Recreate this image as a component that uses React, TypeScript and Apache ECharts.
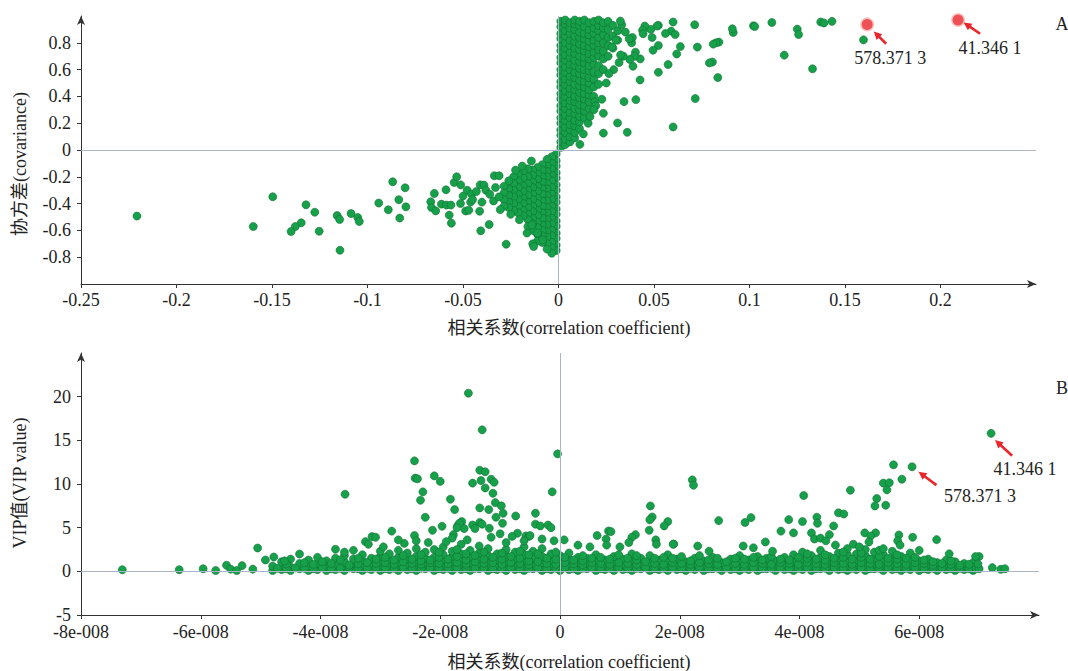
import React, { useEffect, useRef } from "react";
import * as echarts from "echarts";

// ---------- Panel A (S-plot): x = correlation coefficient, y = covariance ----------
// dense cluster, positive side: [x, covariance values at that x]
const sPlotDensePos: [number, number[]][] = [
  [0.0012, [0.02, 0.06, 0.11, 0.15, 0.2, 0.24, 0.29, 0.33, 0.38, 0.42, 0.47, 0.51, 0.56, 0.6, 0.65, 0.69, 0.74, 0.78, 0.83, 0.87, 0.92, 0.96]],
  [0.0035, [0.04, 0.08, 0.13, 0.17, 0.22, 0.26, 0.31, 0.35, 0.4, 0.44, 0.49, 0.53, 0.58, 0.62, 0.67, 0.71, 0.76, 0.8, 0.85, 0.89, 0.94, 0.97]],
  [0.006, [0.06, 0.1, 0.15, 0.19, 0.24, 0.28, 0.33, 0.37, 0.42, 0.46, 0.51, 0.55, 0.6, 0.64, 0.69, 0.73, 0.78, 0.82, 0.87, 0.91, 0.95]],
  [0.0085, [0.09, 0.13, 0.18, 0.22, 0.27, 0.31, 0.36, 0.4, 0.45, 0.49, 0.54, 0.58, 0.63, 0.67, 0.72, 0.76, 0.81, 0.85, 0.9, 0.94, 0.97]],
  [0.011, [0.16, 0.21, 0.25, 0.3, 0.34, 0.39, 0.43, 0.48, 0.52, 0.57, 0.61, 0.66, 0.7, 0.75, 0.79, 0.84, 0.88, 0.93, 0.96]],
  [0.0135, [0.24, 0.29, 0.33, 0.38, 0.42, 0.47, 0.51, 0.56, 0.6, 0.65, 0.69, 0.74, 0.78, 0.83, 0.87, 0.92, 0.97]],
  [0.016, [0.31, 0.36, 0.41, 0.45, 0.5, 0.54, 0.59, 0.63, 0.68, 0.72, 0.77, 0.81, 0.86, 0.9, 0.95]],
  [0.0185, [0.4, 0.47, 0.53, 0.58, 0.64, 0.69, 0.73, 0.78, 0.82, 0.87, 0.91, 0.96]],
  [0.021, [0.49, 0.57, 0.63, 0.7, 0.75, 0.8, 0.84, 0.89, 0.93, 0.97]],
  [0.0235, [0.6, 0.68, 0.74, 0.8, 0.86, 0.91, 0.95]],
  [0.026, [0.7, 0.78, 0.84, 0.9, 0.96]],
  [0.0285, [0.76, 0.85, 0.93]],
  [0.031, [0.82, 0.89]],
];
// dense cluster, negative side
const sPlotDenseNeg: [number, number[]][] = [
  [-0.0012, [-0.03, -0.08, -0.12, -0.17, -0.21, -0.26, -0.3, -0.35, -0.39, -0.44, -0.48, -0.53, -0.57, -0.62, -0.66, -0.71, -0.75]],
  [-0.0035, [-0.05, -0.1, -0.14, -0.19, -0.23, -0.28, -0.33, -0.37, -0.42, -0.46, -0.51, -0.55, -0.6, -0.64, -0.69, -0.73, -0.77]],
  [-0.006, [-0.07, -0.12, -0.16, -0.2, -0.25, -0.29, -0.34, -0.38, -0.43, -0.47, -0.52, -0.56, -0.61, -0.65, -0.7, -0.74]],
  [-0.0085, [-0.11, -0.15, -0.2, -0.24, -0.29, -0.33, -0.38, -0.42, -0.47, -0.51, -0.56, -0.6, -0.64, -0.69]],
  [-0.011, [-0.13, -0.18, -0.22, -0.27, -0.31, -0.36, -0.4, -0.45, -0.49, -0.54, -0.58, -0.63, -0.68]],
  [-0.0135, [-0.15, -0.19, -0.24, -0.28, -0.33, -0.37, -0.42, -0.46, -0.51, -0.55, -0.6]],
  [-0.016, [-0.14, -0.2, -0.25, -0.3, -0.34, -0.39, -0.43, -0.48, -0.52, -0.57]],
  [-0.0185, [-0.16, -0.21, -0.27, -0.31, -0.36, -0.4, -0.45, -0.49]],
  [-0.021, [-0.18, -0.23, -0.28, -0.33, -0.37, -0.42, -0.47]],
  [-0.0235, [-0.2, -0.25, -0.3, -0.35, -0.4, -0.45]],
  [-0.026, [-0.23, -0.29, -0.34, -0.39, -0.43]],
  [-0.0285, [-0.27, -0.32, -0.37, -0.42]],
];
// individually read points
const sPlotSparse: [number, number][] = [
  [-0.2207, -0.493], [-0.1598, -0.571], [-0.1496, -0.349], [-0.1322, -0.409], [-0.1276, -0.464],
  [-0.1347, -0.543], [-0.1378, -0.571], [-0.14, -0.608], [-0.1253, -0.606], [-0.1159, -0.489],
  [-0.1146, -0.518], [-0.1144, -0.748], [-0.1086, -0.474], [-0.1051, -0.504], [-0.1043, -0.533],
  [-0.0941, -0.396], [-0.0891, -0.446], [-0.0868, -0.237], [-0.0836, -0.371], [-0.0831, -0.508],
  [-0.0803, -0.282], [-0.0799, -0.424], [-0.0669, -0.386], [-0.0665, -0.429], [-0.065, -0.324],
  [-0.0643, -0.454], [-0.0613, -0.404], [-0.0589, -0.297], [-0.0587, -0.411], [-0.0572, -0.486],
  [-0.0563, -0.411], [-0.0561, -0.546], [-0.0546, -0.242], [-0.0533, -0.2], [-0.0513, -0.399],
  [-0.0512, -0.26], [-0.05, -0.344], [-0.0486, -0.455], [-0.0478, -0.3], [-0.047, -0.45],
  [-0.046, -0.389], [-0.0455, -0.33], [-0.0407, -0.603], [-0.0413, -0.457], [-0.0401, -0.389],
  [-0.041, -0.26], [-0.039, -0.262], [-0.0363, -0.556], [-0.0336, -0.192], [-0.0311, -0.192],
  [-0.0274, -0.703], [-0.0305, -0.445], [-0.038, -0.3], [-0.036, -0.33], [-0.034, -0.38],
  [-0.043, -0.31], [-0.045, -0.37], [-0.033, -0.28], [-0.0142, -0.082], [-0.0135, -0.7],
  [-0.0083, -0.67], [-0.014, -0.56], [-0.011, -0.62], [-0.013, -0.72], [-0.0312, -0.35],
  [-0.0225, -0.15], [-0.019, -0.12], [-0.0165, -0.62], [-0.0205, -0.52], [-0.025, -0.48],
  [0.1597, 0.822], [0.1432, 0.96], [0.1373, 0.955], [0.139, 0.948], [0.133, 0.606],
  [0.125, 0.902], [0.1257, 0.862], [0.1182, 0.708], [0.1117, 0.952], [0.1021, 0.927],
  [0.1027, 0.922], [0.0915, 0.877], [0.091, 0.905], [0.084, 0.805], [0.0834, 0.541],
  [0.0825, 0.8], [0.081, 0.79], [0.0806, 0.656], [0.079, 0.65], [0.0713, 0.935],
  [0.0727, 0.768], [0.0716, 0.384], [0.06, 0.172], [0.0638, 0.772], [0.0619, 0.717],
  [0.06, 0.955], [0.059, 0.887], [0.0611, 0.862], [0.0574, 0.638], [0.0523, 0.78],
  [0.0523, 0.93], [0.0516, 0.925], [0.0523, 0.58], [0.056, 0.87], [0.0495, 0.745],
  [0.0483, 0.9], [0.049, 0.84], [0.0452, 0.925], [0.044, 0.893], [0.0443, 0.868],
  [0.0427, 0.523], [0.0428, 0.68], [0.0405, 0.376], [0.039, 0.625], [0.0383, 0.8],
  [0.0387, 0.84], [0.0403, 0.73], [0.0398, 0.7], [0.0374, 0.676], [0.036, 0.132],
  [0.0343, 0.361], [0.0331, 0.935], [0.0324, 0.962], [0.0317, 0.653], [0.0309, 0.202],
  [0.034, 0.7], [0.0325, 0.71], [0.0289, 0.6], [0.0264, 0.57], [0.025, 0.5],
  [0.0235, 0.274], [0.0235, 0.126], [0.0227, 0.379], [0.019, 0.36], [0.0195, 0.33],
  [0.0185, 0.3], [0.0112, 0.042], [0.035, 0.88], [0.037, 0.83], [0.028, 0.77], [0.03, 0.82],
  [0.0155, 0.2], [0.013, 0.12], [0.0165, 0.25],
];
const highlightNames = ["578.371 3", "41.346 1"];
const sPlotHighlight: [number, number][] = [[0.1616, 0.937], [0.2092, 0.97]];

// ---------- Panel B (VIP plot): x = correlation coefficient (unit 1e-8), y = VIP value ----------
// dense band near the axis: [x, VIP values at that x...]
const vipDense: number[][] = [
  [-4.8, 0.1, 0.6], [-4.65, 0.2, 1.1], [-4.5, 0.1, 0.5, 1.4], [-4.35, 0.3, 0.9], [-4.2, 0.1, 0.6, 1.3],
  [-4.05, 0.2, 0.9, 1.6], [-3.9, 0.1, 0.5, 1.2], [-3.75, 0.2, 0.8, 1.5], [-3.6, 0.1, 0.6, 1.1, 1.8],
  [-3.45, 0.3, 0.9, 1.4], [-3.3, 0.1, 0.5, 1.2, 1.9], [-3.15, 0.2, 0.8, 1.5], [-3.0, 0.1, 0.6, 1.1, 1.7, 2.3],
  [-2.85, 0.2, 0.7, 1.3, 2.0], [-2.7, 0.1, 0.5, 1.0, 1.6, 2.4], [-2.55, 0.2, 0.8, 1.4, 2.1],
  [-2.4, 0.1, 0.6, 1.1, 1.7, 2.6], [-2.25, 0.3, 0.9, 1.5, 2.2], [-2.1, 0.1, 0.5, 1.0, 1.6, 2.5],
  [-1.95, 0.2, 0.7, 1.3, 1.9, 2.8], [-1.8, 0.1, 0.6, 1.1, 1.7, 2.3], [-1.65, 0.2, 0.8, 1.4, 2.0, 3.1],
  [-1.5, 0.1, 0.5, 1.0, 1.6, 2.4], [-1.35, 0.3, 0.9, 1.5, 2.1, 2.9], [-1.2, 0.1, 0.6, 1.2, 1.8, 2.6],
  [-1.05, 0.2, 0.7, 1.3, 2.0], [-0.9, 0.1, 0.5, 1.1, 1.7, 2.5], [-0.75, 0.2, 0.8, 1.4, 2.2],
  [-0.6, 0.1, 0.6, 1.2, 1.9, 2.8], [-0.45, 0.3, 0.9, 1.5, 2.3], [-0.3, 0.1, 0.5, 1.0, 1.7, 2.6],
  [-0.15, 0.2, 0.7, 1.3, 2.0], [0.0, 0.1, 0.6, 1.2, 1.8], [0.15, 0.2, 0.8, 1.4, 2.1], [0.3, 0.1, 0.5, 1.0, 1.6],
  [0.45, 0.3, 0.9, 1.5], [0.6, 0.1, 0.6, 1.2, 1.9], [0.75, 0.2, 0.7, 1.3], [0.9, 0.1, 0.5, 1.1, 1.7],
  [1.05, 0.2, 0.8, 1.4], [1.2, 0.1, 0.6, 1.2, 2.0], [1.35, 0.3, 0.9, 1.5], [1.5, 0.1, 0.5, 1.0, 1.8],
  [1.65, 0.2, 0.7, 1.3], [1.8, 0.1, 0.6, 1.2, 1.9], [1.95, 0.2, 0.8, 1.4], [2.1, 0.1, 0.5, 1.1],
  [2.25, 0.2, 0.7, 1.5], [2.4, 0.1, 0.6, 1.2], [2.55, 0.3, 0.9, 1.6], [2.7, 0.1, 0.5, 1.0],
  [2.85, 0.2, 0.8, 1.4], [3.0, 0.1, 0.6, 1.2, 1.8], [3.15, 0.2, 0.7, 1.3], [3.3, 0.1, 0.5, 1.1, 1.7],
  [3.45, 0.3, 0.9, 1.5], [3.6, 0.1, 0.6, 1.2], [3.75, 0.2, 0.8, 1.6], [3.9, 0.1, 0.5, 1.1, 1.9],
  [4.05, 0.2, 0.7, 1.4, 2.2], [4.2, 0.1, 0.6, 1.2, 1.8], [4.35, 0.3, 0.9, 1.6, 2.4], [4.5, 0.1, 0.5, 1.1, 1.7],
  [4.65, 0.2, 0.8, 1.4, 2.1], [4.8, 0.1, 0.6, 1.2, 1.9, 2.6], [4.95, 0.2, 0.7, 1.3, 2.0],
  [5.1, 0.1, 0.5, 1.1, 1.8, 2.5], [5.25, 0.3, 0.9, 1.5, 2.2], [5.4, 0.1, 0.6, 1.2, 1.9],
  [5.55, 0.2, 0.8, 1.4, 2.3], [5.7, 0.1, 0.5, 1.0, 1.7], [5.85, 0.2, 0.7, 1.3, 2.1], [6.0, 0.1, 0.6, 1.2],
  [6.15, 0.2, 0.8, 1.4], [6.3, 0.1, 0.5, 1.0], [6.45, 0.2, 0.7, 1.3], [6.6, 0.1, 0.6, 1.1],
  [6.75, 0.2, 0.5, 0.9], [6.9, 0.1, 0.4, 1.0], [7.0, 0.3, 1.7],
];
// second, staggered set of band points
const vipDenseStagger: number[][] = [
  [-4.72, 0.35], [-4.57, 0.3, 0.85], [-4.42, 0.4], [-4.27, 0.35, 1.0], [-4.12, 0.3, 0.8], [-3.97, 0.4, 1.1],
  [-3.82, 0.3, 0.9], [-3.67, 0.35, 1.3], [-3.52, 0.4, 0.7], [-3.37, 0.3, 0.85, 1.5], [-3.22, 0.35, 1.0],
  [-3.07, 0.4, 0.9, 1.4], [-2.92, 0.3, 1.0, 1.6], [-2.77, 0.35, 0.8, 1.3], [-2.62, 0.4, 1.1, 1.8],
  [-2.47, 0.3, 0.9, 1.4], [-2.32, 0.35, 0.8, 1.2, 1.9], [-2.17, 0.4, 1.0, 1.3], [-2.02, 0.3, 0.9, 1.6, 2.2],
  [-1.87, 0.35, 0.85, 1.4], [-1.72, 0.4, 1.0, 1.7, 2.5], [-1.57, 0.3, 0.8, 1.3, 2.0], [-1.42, 0.35, 1.1, 1.8],
  [-1.27, 0.4, 0.9, 1.4, 2.2], [-1.12, 0.3, 1.0, 1.6], [-0.97, 0.35, 0.8, 1.4, 2.1], [-0.82, 0.4, 1.0, 1.7],
  [-0.67, 0.3, 0.9, 1.5, 2.3], [-0.52, 0.35, 0.75, 1.2, 1.9], [-0.37, 0.4, 1.1, 2.0], [-0.22, 0.3, 0.9, 1.5],
  [-0.07, 0.35, 0.8, 1.4, 2.2], [0.08, 0.4, 1.0, 1.6], [0.23, 0.3, 0.85, 1.3], [0.38, 0.35, 0.75, 1.2, 1.8],
  [0.53, 0.4, 1.0, 1.5], [0.68, 0.3, 0.9, 1.6], [0.83, 0.35, 0.8, 1.4], [0.98, 0.4, 1.0, 1.9],
  [1.13, 0.3, 0.9, 1.5], [1.28, 0.35, 0.8, 1.3, 1.8], [1.43, 0.4, 1.1], [1.58, 0.3, 0.9, 1.5],
  [1.73, 0.35, 0.8, 1.6], [1.88, 0.4, 1.0, 1.5], [2.03, 0.3, 0.9, 1.7], [2.18, 0.35, 0.8, 1.2],
  [2.33, 0.4, 1.0, 1.8], [2.48, 0.3, 0.85, 1.3], [2.63, 0.35, 0.8, 1.5], [2.78, 0.4, 1.1],
  [2.93, 0.3, 0.9, 1.5], [3.08, 0.35, 0.8, 1.4], [3.23, 0.4, 1.0, 1.6], [3.38, 0.3, 0.9, 1.3],
  [3.53, 0.35, 0.8, 1.7], [3.68, 0.4, 1.0, 1.4], [3.83, 0.3, 0.9, 1.3], [3.98, 0.35, 0.8, 1.6],
  [4.13, 0.4, 1.0, 1.5, 2.0], [4.28, 0.3, 0.9, 1.4], [4.43, 0.35, 0.8, 1.3, 1.9], [4.58, 0.4, 1.0, 1.5],
  [4.73, 0.3, 0.9, 1.6, 2.2], [4.88, 0.35, 0.8, 1.4], [5.03, 0.4, 1.0, 1.6, 2.1], [5.18, 0.3, 0.9, 1.4],
  [5.33, 0.35, 0.8, 1.7, 2.4], [5.48, 0.4, 1.0, 1.5], [5.63, 0.3, 0.9, 1.4, 1.9], [5.78, 0.35, 0.8, 1.5],
  [5.93, 0.4, 1.0, 1.6], [6.08, 0.3, 0.9, 1.3], [6.23, 0.35, 0.7, 1.1], [6.38, 0.4, 0.9],
  [6.53, 0.3, 0.8, 1.2], [6.68, 0.35, 0.7], [6.83, 0.3, 0.8],
];
const vipSparse: [number, number][] = [
  [-7.31, 0.19], [-6.36, 0.19], [-5.96, 0.3], [-5.75, 0.1], [-5.57, 0.69], [-5.5, 0.25], [-5.4, 0.1],
  [-5.31, 0.65], [-5.13, 0.25], [-5.05, 2.67], [-4.92, 1.3], [-4.78, 1.64], [-4.6, 1.2], [-4.35, 1.98],
  [-3.75, 2.52], [-3.6, 2.2], [-3.45, 2.4], [-3.25, 3.4], [-3.2, 3.1], [-3.14, 3.98], [-3.08, 3.9],
  [-2.95, 2.8], [-2.81, 4.6], [-3.59, 8.83], [-2.43, 12.65], [-2.42, 10.67], [-2.38, 10.6],
  [-2.1, 10.93], [-2.0, 10.3], [-2.29, 9.1], [-2.33, 8.14], [-2.25, 6.19], [-1.83, 8.26], [-1.76, 7.07],
  [-1.53, 20.4], [-1.3, 16.2], [-1.34, 11.58], [-1.25, 11.4], [-1.46, 10.1], [-1.32, 10.4],
  [-1.15, 10.55], [-1.1, 10.2], [-1.25, 9.55], [-1.12, 8.94], [-1.08, 7.87], [-0.98, 7.5],
  [-1.34, 7.26], [-1.19, 7.07], [-0.95, 6.65], [-1.07, 6.2], [-0.74, 6.34], [-0.41, 6.65],
  [-0.96, 5.5], [-0.41, 5.4], [-0.33, 5.2], [-0.2, 5.3], [-0.15, 5.0], [-0.13, 9.1], [-0.04, 13.45],
  [-1.97, 5.16], [-2.13, 4.7], [-2.43, 4.1], [-2.4, 3.5], [-1.64, 5.7], [-1.71, 5.2], [-1.6, 4.9],
  [-1.68, 5.5], [-1.72, 5.0], [-1.78, 4.2], [-1.18, 4.93], [-0.71, 4.36], [-0.57, 4.05], [-0.52, 4.0],
  [-1.34, 5.6], [-1.3, 5.4], [-1.46, 5.3], [-1.42, 4.9], [-1.8, 3.8], [-1.9, 3.4], [-2.2, 3.3],
  [-2.6, 3.2], [-2.7, 3.6], [-0.6, 3.5], [-0.5, 4.1], [-0.8, 4.0], [-1.0, 4.3], [-0.9, 3.3],
  [-0.3, 3.7], [-0.1, 3.5], [-1.55, 3.6], [-1.15, 3.9],
  [0.07, 3.6], [0.3, 3.0], [0.5, 2.8], [0.62, 4.1], [0.81, 4.62], [0.85, 4.55], [0.77, 3.7],
  [0.78, 3.0], [1.26, 4.2], [1.2, 3.9], [1.15, 3.3], [1.51, 7.49], [1.54, 6.23], [1.5, 5.9],
  [1.49, 4.7], [1.8, 5.7], [1.74, 5.2], [1.9, 3.13], [1.6, 3.6], [1.0, 2.8], [2.21, 10.47],
  [2.23, 9.86], [2.65, 5.81], [2.3, 2.9], [2.49, 2.3], [1.89, 3.1], [1.61, 3.1], [3.09, 5.6],
  [3.19, 6.15], [3.06, 2.9], [3.23, 2.7], [3.43, 3.36], [3.55, 2.3], [3.82, 5.92], [4.05, 5.7],
  [3.69, 4.6], [3.9, 4.4], [4.07, 8.68], [4.29, 6.2], [4.3, 5.5], [4.2, 4.4], [4.25, 3.7],
  [4.35, 3.8], [4.57, 5.2], [4.5, 4.2], [4.44, 3.5], [4.65, 6.7], [4.74, 6.57], [4.85, 9.29],
  [4.6, 3.0], [4.9, 3.1], [5.0, 2.8], [5.09, 4.4], [5.27, 4.4], [5.19, 4.05], [5.16, 3.36],
  [5.26, 7.49], [5.29, 8.34], [5.44, 7.57], [5.4, 10.1], [5.5, 10.15], [5.46, 9.33], [5.57, 12.2],
  [5.71, 10.55], [6.29, 3.63], [5.89, 3.9], [5.66, 4.16], [5.64, 3.5], [5.68, 3.0], [5.4, 2.6],
  [6.0, 2.4], [6.5, 2.0], [6.94, 1.69], [6.98, 0.84], [7.22, 0.42], [7.36, 0.23], [7.43, 0.3],
];
const vipHighlight: [number, number][] = [[5.88, 11.97], [7.2, 15.8]];

// ---------- styling / layout ----------
const FONT = "'Liberation Serif', 'Times New Roman', 'Noto Sans CJK SC', serif";
const GREEN = "#17a04a";
const GREEN_BORDER = "#0f7134";
const RED = "#e8262b";
const ZERO_LINE = "#aab6c5";
const TEXT = "#222";

// pixel offsets of annotation arrows/labels relative to their point
const annotA = [
  { tip: [6.6, 7], tail: [19, 19.3], label: [23, 34] },
  { tip: [5.5, 2.4], tail: [22, 13.7], label: [32, 28] },
];
const annotB = [
  { tip: [6.5, 5], tail: [24.4, 18.3], label: [68, 29] },
  { tip: [4, 6.7], tail: [21, 22.4], label: [34, 36] },
];

const cols = (c: [number, number[]][]) => c.flatMap(([x, ys]) => ys.map((y) => [x, y]));
const rows = (r: number[][]) => r.flatMap(([x, ...ys]) => ys.map((y) => [x, y]));

function axisBase(extra: any) {
  return {
    type: "value",
    axisLine: {
      show: true,
      onZero: false,
      symbol: ["none", "arrow"],
      symbolSize: [6, 9],
      lineStyle: { color: "#333", width: 1 },
    },
    axisTick: { show: true, length: 4, lineStyle: { color: "#333" } },
    axisLabel: { fontFamily: FONT, fontSize: 18, color: TEXT },
    splitLine: { show: false },
    ...extra,
  };
}

function greenSeries(data: any[], xi: number) {
  return {
    type: "scatter",
    xAxisIndex: xi,
    yAxisIndex: xi,
    data,
    symbolSize: 8,
    z: 3,
    itemStyle: { color: GREEN, borderColor: GREEN_BORDER, borderWidth: 0.6, opacity: 1 },
    silent: true,
  };
}

function zeroLines(xi: number) {
  return {
    type: "scatter",
    xAxisIndex: xi,
    yAxisIndex: xi,
    data: [],
    z: 1,
    silent: true,
    markLine: {
      silent: true,
      symbol: "none",
      label: { show: false },
      lineStyle: { color: ZERO_LINE, width: 1, type: "solid" },
      data: [{ xAxis: 0 }, { yAxis: 0 }],
    },
  };
}

function arrow(px: number[], a: { tip: number[]; tail: number[] }) {
  const tip = [px[0] + a.tip[0], px[1] + a.tip[1]];
  const tail = [px[0] + a.tail[0], px[1] + a.tail[1]];
  const dx = tip[0] - tail[0];
  const dy = tip[1] - tail[1];
  const len = Math.sqrt(dx * dx + dy * dy);
  const ux = dx / len;
  const uy = dy / len;
  const hl = 8;
  const hw = 4;
  const bx = tip[0] - ux * hl;
  const by = tip[1] - uy * hl;
  return [
    {
      type: "line",
      shape: { x1: tail[0], y1: tail[1], x2: bx + ux, y2: by + uy },
      style: { stroke: RED, lineWidth: 2.6 },
      silent: true,
      z: 10,
    },
    {
      type: "polygon",
      shape: {
        points: [
          [tip[0], tip[1]],
          [bx - uy * hw, by + ux * hw],
          [bx + uy * hw, by - ux * hw],
        ],
      },
      style: { fill: RED },
      silent: true,
      z: 10,
    },
  ];
}

function text(x: number, y: number, t: string, extra: any = {}) {
  return {
    type: "text",
    x,
    y,
    silent: true,
    z: 10,
    style: {
      text: t,
      fontFamily: FONT,
      fontSize: 18,
      fill: TEXT,
      align: "center",
      verticalAlign: "middle",
    },
    ...extra,
  };
}

export default function App() {
  const ref = useRef<HTMLDivElement>(null);

  useEffect(() => {
    const el = ref.current;
    if (!el) return;
    const chart = echarts.init(el, undefined, { renderer: "svg" });

    const option: any = {
      animation: false,
      backgroundColor: "#ffffff",
      grid: [
        { left: 81, top: 16, width: 955, height: 268 },
        { left: 81, top: 353, width: 958, height: 262 },
      ],
      xAxis: [
        axisBase({
          gridIndex: 0,
          min: -0.25,
          max: 0.25,
          interval: 0.05,
          axisLabel: { fontFamily: FONT, fontSize: 18, color: TEXT, margin: 7, showMaxLabel: false },
        }),
        axisBase({
          gridIndex: 1,
          min: -8,
          max: 8,
          interval: 2,
          axisLabel: {
            fontFamily: FONT,
            fontSize: 18,
            color: TEXT,
            margin: 8,
            showMaxLabel: false,
            formatter: (v: number) => (v === 0 ? "0" : `${v}e-008`),
          },
        }),
      ],
      yAxis: [
        axisBase({
          gridIndex: 0,
          min: -1,
          max: 1,
          interval: 0.2,
          axisLabel: {
            fontFamily: FONT,
            fontSize: 18,
            color: TEXT,
            margin: 10,
            showMaxLabel: false,
            showMinLabel: false,
            formatter: (v: number) => String(Math.round(v * 10) / 10),
          },
        }),
        axisBase({
          gridIndex: 1,
          min: -5,
          max: 25,
          interval: 5,
          axisLabel: { fontFamily: FONT, fontSize: 18, color: TEXT, margin: 10, showMaxLabel: false },
        }),
      ],
      series: [
        zeroLines(0),
        zeroLines(1),
        greenSeries(cols(sPlotDenseNeg), 0),
        greenSeries(cols(sPlotDensePos), 0),
        greenSeries(sPlotSparse, 0),
        {
          type: "scatter",
          xAxisIndex: 0,
          yAxisIndex: 0,
          data: sPlotHighlight,
          symbolSize: 11,
          z: 4,
          silent: true,
          itemStyle: { color: RED, borderColor: "rgba(240,90,90,0.45)", borderWidth: 3 },
        },
        greenSeries(rows(vipDense), 1),
        greenSeries(rows(vipDenseStagger), 1),
        greenSeries(vipSparse, 1),
        greenSeries(vipHighlight, 1),
      ],
    };
    chart.setOption(option);

    const graphic: any[] = [
      text(569, 328, "相关系数(correlation coefficient)"),
      text(569, 662, "相关系数(correlation coefficient)"),
      text(20, 164, "协方差(covariance)", { rotation: Math.PI / 2 }),
      text(20, 483, "VIP值(VIP value)", { rotation: Math.PI / 2 }),
      text(1062, 24, "A"),
      text(1062, 388, "B"),
    ];
    sPlotHighlight.forEach((p, i) => {
      const px = chart.convertToPixel({ gridIndex: 0 } as any, p) as number[];
      const a = annotA[i];
      graphic.push(...arrow(px, a));
      graphic.push(text(px[0] + a.label[0], px[1] + a.label[1], highlightNames[i]));
    });
    vipHighlight.forEach((p, i) => {
      const px = chart.convertToPixel({ gridIndex: 1 } as any, p) as number[];
      const a = annotB[i];
      graphic.push(...arrow(px, a));
      graphic.push(text(px[0] + a.label[0], px[1] + a.label[1], highlightNames[i]));
    });
    chart.setOption({ graphic });

    return () => chart.dispose();
  }, []);

  return (
    <div
      ref={ref}
      style={{ position: "fixed", left: 0, top: 0, width: 1068, height: 671, background: "#fff" }}
    />
  );
}
